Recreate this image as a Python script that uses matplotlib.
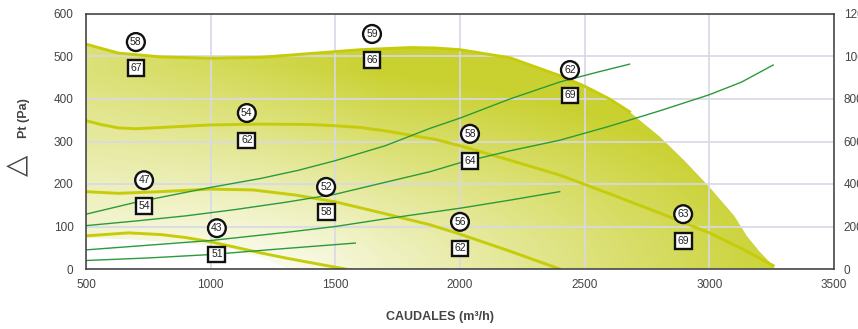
import numpy as np
import matplotlib
matplotlib.use('Agg')
import matplotlib.pyplot as plt
from matplotlib.patches import Polygon

plt.rcParams['font.family'] = ['Liberation Sans', 'DejaVu Sans']

# fan curves (caudal m3/h, pressure Pa)
c1_q = [500, 630, 800, 1000, 1200, 1400, 1600, 1800, 1900, 2000, 2200, 2400, 2500, 2600, 2680]
c1_p = [529, 508, 499, 496, 498, 507, 516, 521, 520, 516, 497, 455, 430, 400, 370]
# outer edge of the working area after the top curve
edge_q = [2800, 2900, 3000, 3100, 3150, 3200, 3260]
edge_p = [312, 255, 193, 125, 78, 42, 5]
# lower edge of the working area (white zone under the smallest curve)
low_q = [1310, 1230, 1100, 900, 670, 500]
low_p = [0, 21, 45, 61, 70, 73]

c2_q = [500, 560, 630, 700, 800, 1000, 1200, 1400, 1500, 1600, 1700, 1800, 1900, 2000, 2200, 2400, 2600, 2800, 3000, 3130, 3256]
c2_p = [349, 340, 332, 330, 333, 339, 341, 340, 337, 333, 325, 315, 305, 290, 256, 221, 177, 132, 85, 48, 8]

c3_q = [500, 630, 800, 1000, 1170, 1340, 1500, 1700, 1880, 2000, 2200, 2400]
c3_p = [182, 178, 182, 188, 186, 174, 158, 130, 104, 82, 42, 0]

c4_q = [500, 670, 800, 900, 1000, 1100, 1200, 1300, 1400, 1540]
c4_p = [78, 85, 81, 74, 64, 51, 38, 26, 15, 0]

# system curves
g1_q = [500, 700, 1000, 1200, 1350, 1500, 1700, 1880, 2000, 2200, 2400, 2550, 2680]
g1_p = [129, 157, 192, 213, 232, 255, 290, 331, 355, 400, 440, 463, 482]

g2_q = [500, 700, 900, 1100, 1300, 1500, 1700, 1880, 2000, 2200, 2400, 2600, 2800, 3000, 3130, 3256]
g2_p = [102, 113, 125, 140, 157, 176, 204, 229, 250, 278, 303, 336, 372, 410, 440, 480]

g3_q = [500, 750, 1000, 1300, 1500, 1700, 2000, 2200, 2400]
g3_p = [45, 56, 67, 86, 100, 118, 143, 162, 182]

g4_q = [500, 750, 1000, 1250, 1580]
g4_p = [20, 26, 34, 46, 61]

# noise labels
circle_q = [700, 1647, 1145, 733, 1463, 1025, 2441, 2040, 2000, 2895]
circle_p = [534, 553, 367, 209, 193, 96, 468, 318, 111, 129]
circle_txt = ['58', '59', '54', '47', '52', '43', '62', '58', '56', '63']
square_p = [473, 492, 303, 148, 134, 35, 409, 254, 49, 66]
square_txt = ['67', '66', '62', '54', '58', '51', '69', '64', '62', '69']

x_ticks = [500, 1000, 1500, 2000, 2500, 3000, 3500]
y_ticks = [0, 100, 200, 300, 400, 500, 600]
y2_ticks = [0, 200, 400, 600, 800, 1000, 1200]

fig = plt.figure(figsize=(8.58, 3.29), dpi=100)
ax = fig.add_axes([86 / 858, 60 / 329, 748 / 858, 255 / 329])
ax.set_xlim(500, 3500)
ax.set_ylim(0, 600)

# gradient fill inside the working envelope, pale near the bottom, strong top-middle
gx, gy = np.meshgrid(np.linspace(0, 1, 400), np.linspace(0, 1, 200))
d = np.sqrt(((gx - 0.2) / 0.75) ** 2 + ((gy + 0.05) / 0.85) ** 2)
s = np.clip(d, 0, 1) * (0.65 + 0.35 * np.clip(gx / 0.4, 0, 1))
deep = np.array([0.79, 0.82, 0.19])
img = np.ones((200, 400, 3)) * (1 - s[..., None]) + deep * s[..., None]
im = ax.imshow(img, extent=(500, 3500, 0, 600), origin='lower', aspect='auto', zorder=0)
env = list(zip(c1_q + edge_q, c1_p + edge_p)) + [(3260, 0)] + list(zip(low_q, low_p))
poly = Polygon(env, closed=True, facecolor='none', edgecolor='none')
ax.add_patch(poly)
im.set_clip_path(poly)

ax.set_xticks(x_ticks)
ax.set_yticks(y_ticks)
ax.grid(True, color='#d8d8e8', linewidth=1.2)
for gl in ax.get_xgridlines() + ax.get_ygridlines():
    gl.set_zorder(1)

yel = '#c6cc0a'
grn = '#2b9a3c'
ax.plot(c1_q, c1_p, color=yel, lw=2.1, zorder=3)
ax.plot(c2_q, c2_p, color=yel, lw=2.1, zorder=3)
ax.plot(c3_q, c3_p, color=yel, lw=2.1, zorder=3)
ax.plot(c4_q, c4_p, color=yel, lw=2.1, zorder=3)
for q, p in [(g1_q, g1_p), (g2_q, g2_p), (g3_q, g3_p), (g4_q, g4_p)]:
    ax.plot(q, p, color=grn, lw=1.0, zorder=4)

for q, p, t in zip(circle_q, circle_p, circle_txt):
    ax.text(q, p, t, ha='center', va='center', fontsize=7.5, color='#222', zorder=6,
            bbox=dict(boxstyle='circle,pad=0.3', fc='white', ec='#111', lw=1.7))
for q, p, t in zip(circle_q, square_p, square_txt):
    ax.text(q, p, t, ha='center', va='center', fontsize=7.5, color='#222', zorder=6,
            bbox=dict(boxstyle='square,pad=0.25', fc='white', ec='#111', lw=1.7))

for sp in ax.spines.values():
    sp.set_color('#3a3a3a')
    sp.set_linewidth(1.1)
    sp.set_zorder(7)
ax.tick_params(length=0, labelsize=8.5, colors='#444')
ax.tick_params(axis='y', pad=9)
ax.tick_params(axis='x', pad=7)

# right scale, its labels run off the picture edge as in the original
ax2 = ax.twinx()
ax2.set_ylim(0, 1200)
ax2.set_yticks(y2_ticks)
ax2.tick_params(length=0, labelsize=8.5, colors='#444', pad=7)
for sp in ax2.spines.values():
    sp.set_visible(False)

fig.text(440 / 858, 1 - 317 / 329, 'CAUDALES (m³/h)', ha='center', va='center',
         fontsize=9, fontweight='bold', color='#444')
fig.text(17 / 858, 1 - 165 / 329, '△', rotation=90, ha='center', va='center',
         fontsize=20, color='#444', family=['DejaVu Sans'])
fig.text(24 / 858, 1 - 118 / 329, 'Pt (Pa)', rotation=90, ha='center', va='center',
         fontsize=9, fontweight='bold', color='#444')

fig.savefig('out.png', dpi=100)
